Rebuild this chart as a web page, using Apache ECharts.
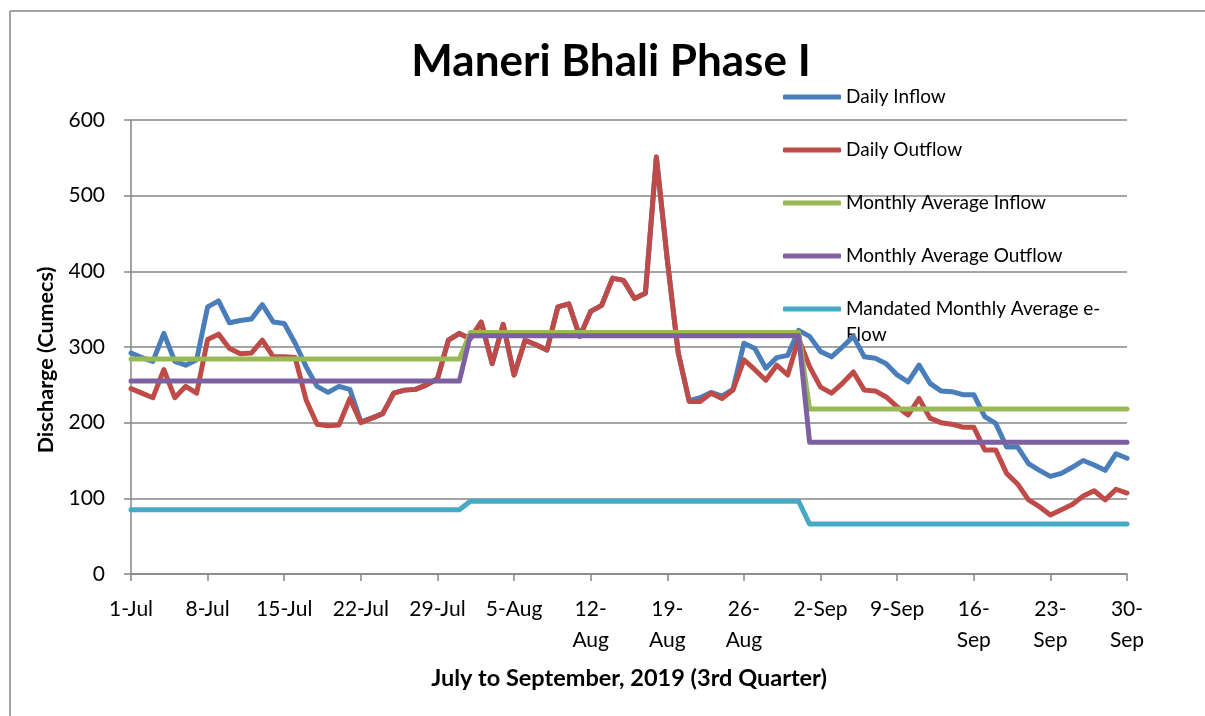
<!DOCTYPE html>
<html>
<head>
<meta charset="utf-8">
<script src="https://cdn.jsdelivr.net/npm/echarts@6/dist/echarts.min.js"></script>
<style>
  html, body { margin: 0; padding: 0; background: #fff; }
  #chart { width: 1205px; height: 716px; }
</style>
</head>
<body>
<div id="chart"></div>
<script>
// daily discharge, 1-Jul .. 30-Sep 2019 (92 days)
var dailyInflow = [
  292, 286, 281, 318, 281, 276, 283, 353, 361, 332, 335, 337, 356, 333, 331, 305, 274, 248, 240, 248, 244, 201,
  206, 212, 239, 243, 244, 250, 258, 309, 318,
  311, 333, 278, 330, 263, 309, 303, 296, 353, 357, 314, 347, 355, 391, 388, 364, 371, 551, 415, 292,
  229, 233, 240, 235, 244, 305, 298, 272, 286, 289, 322,
  314, 294, 287, 300, 314, 287, 285, 278, 263, 254, 276, 252, 242, 241, 237, 237, 208, 199, 168, 168,
  146, 137, 129, 133, 141, 150, 144, 137, 159, 153
];
var dailyOutflow = [
  245, 239, 233, 270, 233, 248, 239, 310, 317, 298, 291, 292, 309, 287, 287, 286, 230, 198, 196, 197, 232,
  200, 206, 212, 239, 243, 244, 250, 258, 309, 318,
  311, 333, 278, 330, 263, 309, 303, 296, 353, 357, 314, 347, 355, 391, 388, 364, 371, 551, 415, 292,
  228, 228, 239, 232, 243, 283, 270, 256, 276, 263, 311,
  274, 247, 239, 252, 267, 243, 242, 234, 221, 210, 232, 206, 200, 198, 194, 194, 164, 164, 133, 119,
  98, 89, 78, 85, 92, 103, 110, 98, 112, 107
];
// monthly values (Jul, Aug, Sep)
var monthNames = ["Jul", "Aug", "Sep"];
var monthDays = [31, 31, 30];
var monthlyAvgInflow = [284, 319, 218];
var monthlyAvgOutflow = [255, 315, 174];
var mandatedEflow = [85, 96, 66];

var tickLabels = ["1-Jul", "8-Jul", "15-Jul", "22-Jul", "29-Jul", "5-Aug", "12-\nAug", "19-\nAug",
  "26-\nAug", "2-Sep", "9-Sep", "16-\nSep", "23-\nSep", "30-\nSep"];

var FONT = "Lato";

// one category per day
var days = [];
monthNames.forEach(function (m, i) {
  for (var d = 1; d <= monthDays[i]; d++) days.push(d + "-" + m);
});

function perDay(monthly) {
  var out = [];
  monthly.forEach(function (v, i) {
    for (var d = 0; d < monthDays[i]; d++) out.push(v);
  });
  return out;
}

var names = ["Daily Inflow", "Daily Outflow", "Monthly Average Inflow", "Monthly Average Outflow",
  "Mandated Monthly Average e-Flow"];
var colors = ["#4A7EBB", "#BE4B48", "#98B954", "#7D60A0", "#46AAC5"];
var seriesData = [dailyInflow, dailyOutflow, perDay(monthlyAvgInflow), perDay(monthlyAvgOutflow), perDay(mandatedEflow)];

var series = [];
names.forEach(function (n, i) {
  series.push({
    name: n,
    type: "line",
    data: seriesData[i],
    symbol: "none",
    smooth: false,
    lineStyle: { width: 5, color: colors[i], cap: "round", join: "round" },
    itemStyle: { color: colors[i] },
  });
});

var chart = echarts.init(document.getElementById("chart"));
var option = {
  animation: false,
  backgroundColor: "#ffffff",
  color: colors,
  title: {
    text: "Maneri Bhali Phase I",
    left: 606,
    textAlign: "center",
    top: 35,
    textStyle: { fontFamily: FONT, fontWeight: "bold", fontSize: 44, color: "#000" },
  },
  legend: {
    orient: "vertical",
    left: 783,
    top: 84,
    padding: 0,
    itemGap: 27,
    itemWidth: 58,
    itemHeight: 5,
    icon: "roundRect",
    formatter: function (name) {
      // the long name wraps in the original, second line is drawn below
      if (name == names[4]) return "Mandated Monthly Average e-";
      return name;
    },
    textStyle: { fontFamily: FONT, fontSize: 19, color: "#000", lineHeight: 26 },
    data: names,
  },
  grid: { left: 131, right: 78, top: 120, bottom: 142 },
  xAxis: {
    type: "category",
    data: days,
    boundaryGap: false,
    name: "July to September, 2019 (3rd Quarter)",
    nameLocation: "middle",
    nameGap: 92,
    nameTextStyle: { fontFamily: FONT, fontWeight: "bold", fontSize: 23.5, color: "#000" },
    axisLine: { lineStyle: { color: "#868686", width: 1.5 } },
    axisTick: { show: true, interval: 6, length: 7, lineStyle: { color: "#868686", width: 1.5 } },
    axisLabel: {
      interval: 6,
      margin: 20,
      fontFamily: FONT,
      fontSize: 21,
      lineHeight: 31,
      color: "#000",
      formatter: function (value, index) {
        return tickLabels[index / 7];
      },
    },
    splitLine: { show: false },
  },
  yAxis: {
    type: "value",
    min: 0,
    max: 600,
    interval: 100,
    name: "Discharge (Cumecs)",
    nameLocation: "middle",
    nameGap: 74,
    nameTextStyle: { fontFamily: FONT, fontWeight: "bold", fontSize: 21.5, color: "#000", padding: [0, 26, 0, 0] },
    axisLine: { show: true, lineStyle: { color: "#868686", width: 1.5 } },
    axisTick: { show: true, length: 7, lineStyle: { color: "#868686", width: 1.5 } },
    axisLabel: { margin: 26, fontFamily: FONT, fontSize: 21, color: "#000" },
    splitLine: { lineStyle: { color: "#868686", width: 1.5 } },
  },
  graphic: [
    { type: "line", shape: { x1: 10, y1: 11, x2: 1205, y2: 11 }, style: { stroke: "#868686", lineWidth: 1.5 } },
    { type: "line", shape: { x1: 10, y1: 11, x2: 10, y2: 716 }, style: { stroke: "#868686", lineWidth: 1.5 } },
    {
      type: "text",
      left: 846,
      top: 325,
      style: { text: "Flow", fontFamily: FONT, fontSize: 19, fill: "#000" },
    },
  ],
  series: series,
};
chart.setOption(option);
</script>
</body>
</html>
